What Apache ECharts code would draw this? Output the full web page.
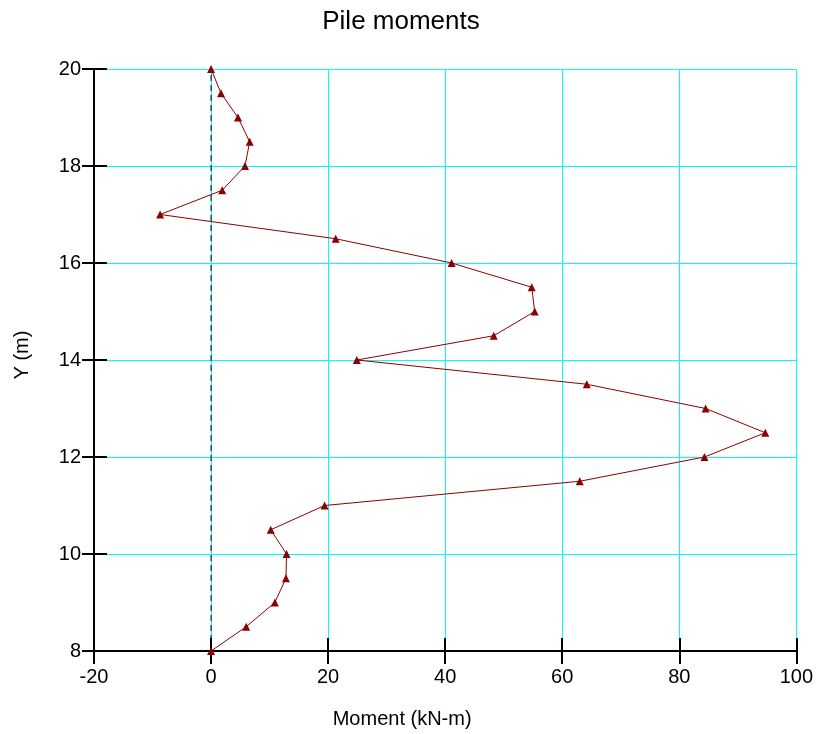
<!DOCTYPE html>
<html><head><meta charset="utf-8">
<script src="https://cdn.jsdelivr.net/npm/echarts@6/dist/echarts.min.js"></script>
<style>html,body{margin:0;padding:0;background:#fff}#c{width:816px;height:734px}</style>
</head><body><div id="c"></div>
<script>
const depths = [20,19.5,19,18.5,18,17.5,17,16.5,16,15.5,15,14.5,14,13.5,13,12.5,12,11.5,11,10.5,10,9.5,9,8.5,8];
const moments = [0,1.7,4.6,6.6,5.8,1.9,-8.7,21.3,41.1,54.8,55.3,48.3,24.9,64.2,84.5,94.7,84.3,63.0,19.4,10.2,12.9,12.8,10.9,6.0,0];
const refLineX = [0,0];
const refLineY = [8,20];
const xTicks = {min:-20,max:100,interval:20};
const yTicks = {min:8,max:20,interval:2};

const font = 'Liberation Sans, Arial, sans-serif';
const chart = echarts.init(document.getElementById('c'));
const xBase = {type:'value',min:xTicks.min,max:xTicks.max,interval:xTicks.interval,position:'bottom'};
const yBase = {type:'value',min:yTicks.min,max:yTicks.max,interval:yTicks.interval,position:'left'};
const tickStyle = {color:'#000',width:2};
const gridStyle = {show:true,lineStyle:{color:'#00FFFF',width:1,opacity:1,type:'solid'}};
chart.setOption({
  animation:false,
  title:{text:'Pile moments',left:396,top:4,textAlign:'center',textStyle:{fontFamily:font,fontSize:26,fontWeight:'normal',color:'#000'}},
  grid:{left:94,right:19,top:69,bottom:82,containLabel:false},
  xAxis:[
    Object.assign({},xBase,{name:'Moment (kN-m)',nameLocation:'middle',nameGap:58,
      nameTextStyle:{fontFamily:font,fontSize:20,color:'#000',padding:[0,86,0,0]},
      axisLine:{show:true,onZero:false,lineStyle:{color:'#000',width:2}},
      axisTick:{show:true,inside:false,length:13,lineStyle:tickStyle},
      axisLabel:{fontFamily:font,fontSize:20,color:'#000',margin:16},
      splitLine:gridStyle}),
    Object.assign({},xBase,{axisLine:{show:false,onZero:false},
      axisTick:{show:true,inside:true,length:13,lineStyle:tickStyle},
      axisLabel:{show:false},splitLine:gridStyle,splitArea:{show:false}})
  ],
  yAxis:[
    Object.assign({},yBase,{name:'Y (m)',nameLocation:'middle',nameGap:62,nameRotate:90,
      nameTextStyle:{fontFamily:font,fontSize:20,color:'#000',padding:[0,0,0,10]},
      axisLine:{show:true,onZero:false,lineStyle:{color:'#000',width:2}},
      axisTick:{show:true,inside:false,length:12,lineStyle:tickStyle},
      axisLabel:{fontFamily:font,fontSize:20,color:'#000',margin:13},
      splitLine:gridStyle}),
    Object.assign({},yBase,{axisLine:{show:false,onZero:false},
      axisTick:{show:true,inside:true,length:13,lineStyle:tickStyle},
      axisLabel:{show:false},splitLine:gridStyle,splitArea:{show:false}})
  ],
  series:[
    {type:'line',xAxisIndex:0,yAxisIndex:0,data:refLineX.map((x,i)=>[x,refLineY[i]]),
      symbol:'none',lineStyle:{color:'#000',width:1,type:[6,4]},z:2,silent:true},
    {type:'line',xAxisIndex:0,yAxisIndex:0,data:moments.map((m,i)=>[m,depths[i]]),
      symbol:'triangle',symbolSize:8,itemStyle:{color:'#8B0000'},
      lineStyle:{color:'#8B0000',width:1},z:3}
  ]
});
</script></body></html>
